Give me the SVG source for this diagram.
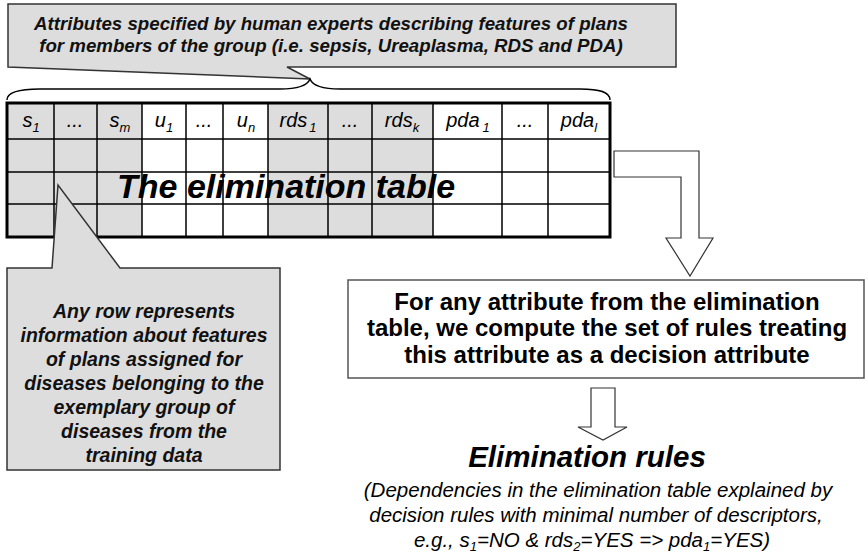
<svg xmlns="http://www.w3.org/2000/svg" width="868" height="559" viewBox="0 0 868 559">
<style>
.callout{fill:#dddddd;stroke:#333;stroke-width:1.5}
.ct{font-family:"Liberation Sans",Arial,sans-serif;font-weight:bold;font-style:italic;font-size:18.7px;fill:#111;text-anchor:middle}
.lt{font-family:"Liberation Sans",Arial,sans-serif;font-weight:bold;font-style:italic;font-size:19.5px;fill:#111;text-anchor:middle}
.hd{font-family:"Liberation Sans",Arial,sans-serif;font-style:italic;font-size:20px;fill:#000;text-anchor:middle}
.sub{font-size:13px}
.grid{stroke:#000;stroke-width:1.5;fill:none}
.arrow{fill:#fff;stroke:#333;stroke-width:1.2}
.bt{font-family:"Liberation Sans",Arial,sans-serif;font-weight:bold;font-size:24px;fill:#000;text-anchor:middle}
.it{font-family:"Liberation Sans",Arial,sans-serif;font-style:italic;font-size:20.5px;fill:#000;text-anchor:middle}
.its{font-size:13px}
</style>
<rect width="868" height="559" fill="#fff"/>
<g id="top-callout">
<polygon class="callout" points="8,4 676,4 676,67 287,67 310,79 8,67"/>
<text class="ct" x="331" y="30">Attributes specified by human experts describing features of plans</text>
<text class="ct" x="331" y="52">for members of the group (i.e. sepsis, Ureaplasma, RDS and PDA)</text>
</g>
<g id="brace">
<path d="M7,100 C7,92 20,89 40,89 L280,89 C300,89 308,84 310,79 C312,84 320,89 340,89 L580,89 C600,89 610,92 610,100" fill="none" stroke="#000" stroke-width="1.5"/>
</g>
<g id="table">
<rect x="7" y="103" width="135" height="134" fill="#dddddd"/>
<rect x="142" y="103" width="126" height="134" fill="#fff"/>
<rect x="268" y="103" width="165" height="134" fill="#dddddd"/>
<rect x="433" y="103" width="177" height="134" fill="#fff"/>
<path class="grid" d="M7,139H610M7,172H610M7,204H610M54,103V237M97,103V237M142,103V237M186,103V237M223,103V237M268,103V237M328,103V237M372,103V237M433,103V237M502,103V237M548,103V237"/>
<rect x="7" y="103" width="603" height="134" fill="none" stroke="#000" stroke-width="3"/>
<text class="hd" x="31" y="127">s<tspan class="sub" dy="5">1</tspan></text>
<text class="hd" x="75" y="127">...</text>
<text class="hd" x="120" y="127">s<tspan class="sub" dy="5">m</tspan></text>
<text class="hd" x="164" y="127">u<tspan class="sub" dy="5">1</tspan></text>
<text class="hd" x="204" y="127">...</text>
<text class="hd" x="246" y="127">u<tspan class="sub" dy="5">n</tspan></text>
<text class="hd" x="298" y="127">rds<tspan class="sub" dy="5" dx="2">1</tspan></text>
<text class="hd" x="350" y="127">...</text>
<text class="hd" x="402" y="127">rds<tspan class="sub" dy="5">k</tspan></text>
<text class="hd" x="468" y="127">pda<tspan class="sub" dy="5" dx="3">1</tspan></text>
<text class="hd" x="525" y="127">...</text>
<text class="hd" x="579" y="127">pda<tspan class="sub" dy="5">l</tspan></text>
<text x="117" y="198" font-family="'Liberation Sans',Arial,sans-serif" font-weight="bold" font-style="italic" font-size="34" fill="#000">The elimination table</text>
</g>
<g id="row-callout">
<polygon class="callout" points="7,268 52,268 58,185 120,268 280,268 280,470 7,470"/>
<text class="lt" x="144" y="318">Any row represents</text>
<text class="lt" x="144" y="342">information about features</text>
<text class="lt" x="144" y="366">of plans assigned for</text>
<text class="lt" x="144" y="390">diseases belonging to the</text>
<text class="lt" x="144" y="414">exemplary group of</text>
<text class="lt" x="144" y="438">diseases from the</text>
<text class="lt" x="144" y="462">training data</text>
</g>
<g id="connectors">
<polygon class="arrow" points="614,151 699,151 699,238 713,238 690,276 666,238 681,238 681,177 614,177"/>
<polygon class="arrow" points="591,388 615,388 615,427 627,427 603,440 578,427 591,427"/>
</g>
<g id="compute-box">
<rect x="348" y="280" width="516" height="98" fill="#fff" stroke="#555" stroke-width="1.5"/>
<text class="bt" x="607" y="310">For any attribute from the elimination</text>
<text class="bt" x="607" y="336">table, we compute the set of rules treating</text>
<text class="bt" x="607" y="363">this attribute as a decision attribute</text>
</g>
<g id="rules">
<text x="587" y="467" font-family="'Liberation Sans',Arial,sans-serif" font-weight="bold" font-style="italic" font-size="29.5" fill="#000" text-anchor="middle">Elimination rules</text>
<text class="it" x="598" y="497">(Dependencies in the elimination table explained by</text>
<text class="it" x="596" y="522">decision rules with minimal number of descriptors,</text>
<text class="it" x="592" y="547">e.g., s<tspan class="its" dy="4">1</tspan><tspan dy="-4">=NO &amp; rds</tspan><tspan class="its" dy="4">2</tspan><tspan dy="-4">=YES =&gt; pda</tspan><tspan class="its" dy="4">1</tspan><tspan dy="-4">=YES)</tspan></text>
</g>
</svg>
